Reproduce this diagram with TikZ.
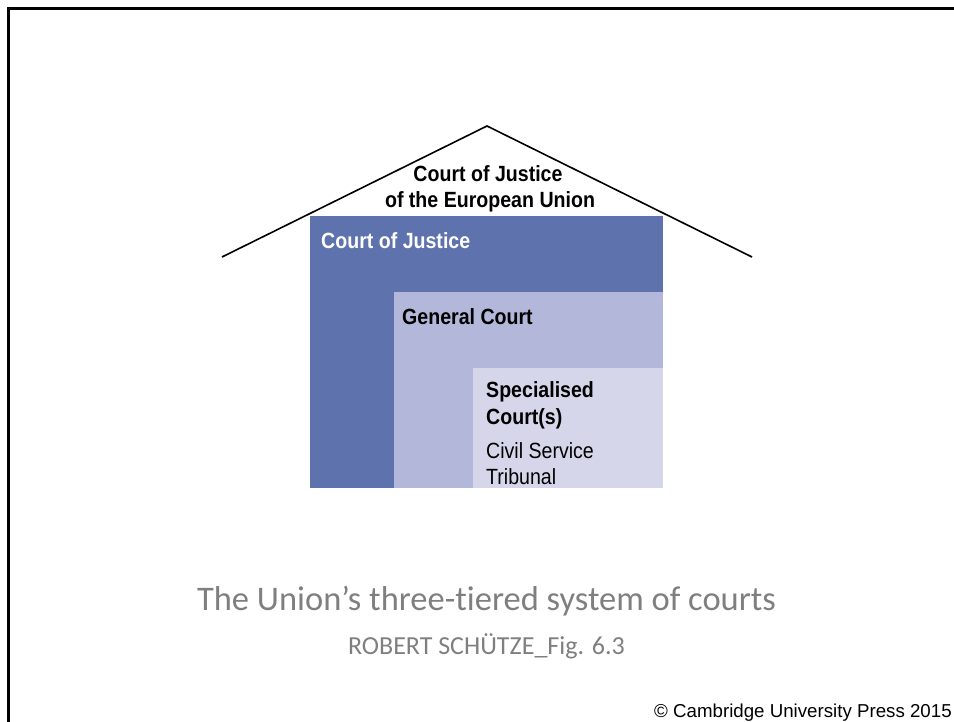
\documentclass[tikz,border=0pt]{standalone}
\usepackage{fontspec}
\newfontfamily\helvfont[FakeStretch=0.89]{Liberation Sans}
\newfontfamily\arialfont{Liberation Sans}
\newfontfamily\calfont[Ligatures=NoCommon]{Carlito}
\definecolor{cjblue}{HTML}{5E72AE}
\definecolor{gcblue}{HTML}{B3B7D9}
\definecolor{scblue}{HTML}{D5D6EA}
\definecolor{capgray}{HTML}{7F7F7F}

\begin{document}
\begin{tikzpicture}
  [x=1pt,y=-1pt,
   courtbox/.style={rectangle,anchor=north west,inner sep=0pt,outer sep=0pt},
   boxtext/.style={anchor=base west,inner sep=0pt,font=\helvfont\bfseries\fontsize{22}{26}\selectfont},
   plaintext/.style={anchor=base west,inner sep=0pt,font=\helvfont\fontsize{22}{26}\selectfont},
   captext/.style={anchor=base,inner sep=0pt,text=capgray}]
  \useasboundingbox (0,0) rectangle (954,722);
  \draw[line width=2.6pt] (8.5,8.5) rectangle (980,750);
  % the three courts
  \node[courtbox,fill=cjblue,minimum width=353pt,minimum height=272pt] (cj) at (310,216) {};
  \node[courtbox,fill=gcblue,minimum width=269pt,minimum height=196pt] (gc) at (394,292) {};
  \node[courtbox,fill=scblue,minimum width=190pt,minimum height=120pt] (sc) at (473,368) {};
  % roof
  \coordinate (eaveL) at (222,257);
  \coordinate (apex) at (487,126);
  \coordinate (eaveR) at (752,257);
  \draw[line width=1.6pt] (eaveL) -- (apex) -- (eaveR);
  \node[boxtext,anchor=base] (roofA) at (488,182) {Court of Justice};
  \node[boxtext,anchor=base] (roofB) at (490,208) {of the European Union};
  \node[boxtext,text=white] (cjtext) at (321,249) {Court of Justice};
  \node[boxtext] (gctext) at (402,325) {General Court};
  \node[boxtext] (sctextA) at (486,397) {Specialised};
  \node[boxtext] (sctextB) at (486,424) {Court(s)};
  \node[plaintext] (cstA) at (486,458) {Civil Service};
  \node[plaintext] (cstB) at (486,484) {Tribunal};
  % caption
  \node[captext,font=\calfont\fontsize{34.5}{40}\selectfont] (title) at (486.5,610) {The Union’s three-tiered system of courts};
  \node[captext,font=\calfont\fontsize{26}{30}\selectfont] (author) at (486.5,654) {ROBERT SCHÜTZE\_Fig. 6.3};
  \node[anchor=base west,inner sep=0pt,font=\arialfont\fontsize{18.7}{22}\selectfont] (press) at (654,717) {© Cambridge University Press 2015};
\end{tikzpicture}
\end{document}
